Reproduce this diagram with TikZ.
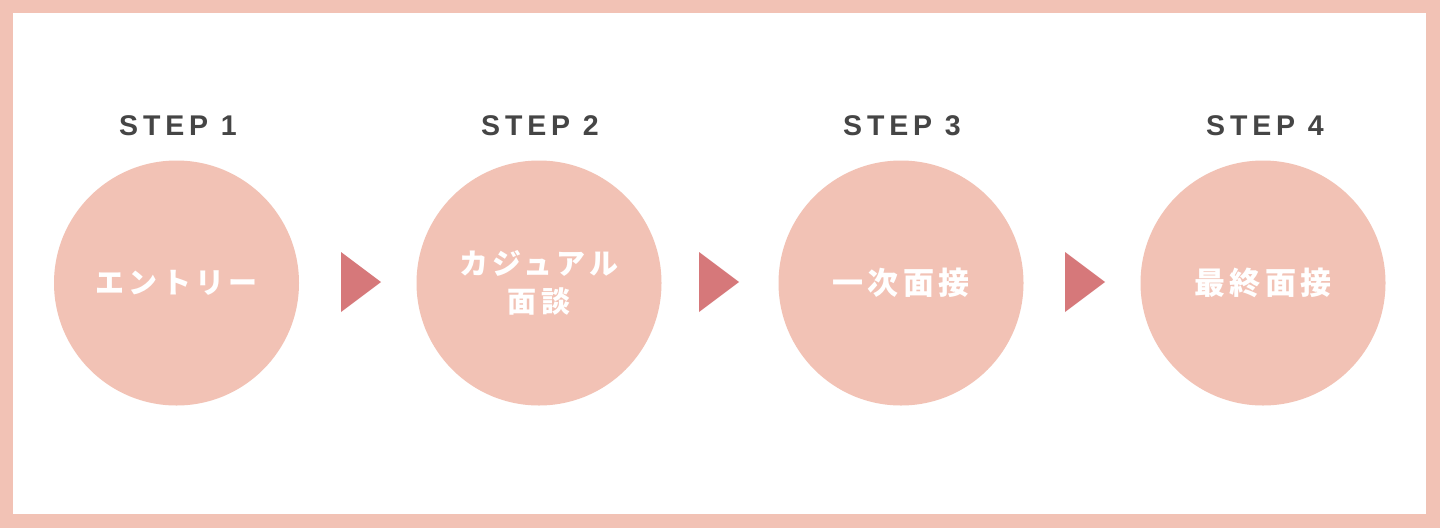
\documentclass[tikz,border=0pt]{standalone}
\usepackage{fontspec}
\newfontfamily\jp{Noto Sans CJK JP}
\newfontfamily\stepfont{Liberation Sans}[LetterSpace=17]
\definecolor{pinkbg}{HTML}{F2C2B5}
\definecolor{arrowc}{HTML}{D6787A}
\definecolor{stepc}{HTML}{454545}
\begin{document}
\begin{tikzpicture}[x=1pt,y=-1pt,
  stepcircle/.style={circle,fill=pinkbg,minimum size=245pt,inner sep=0pt,text=white,align=center},
  kana/.style={font=\jp\bfseries\fontsize{29}{38}\selectfont\addfontfeature{LetterSpace=14}},
  kanji/.style={font=\jp\bfseries\fontsize{31}{38}\selectfont\addfontfeature{LetterSpace=15}},
  steplabel/.style={text=stepc,font=\stepfont\bfseries\fontsize{28.5}{30}\selectfont,inner sep=0pt},
  tri/.style={fill=arrowc}]
\useasboundingbox (0,0) rectangle (1440,528);
\fill[pinkbg] (0,0) rectangle (1440,528);
\fill[white] (13,13) rectangle (1426,514);
\node[stepcircle,kana] (c1) at (176.5,283) {エントリー};
\node[stepcircle,kana] (c2) at (539,283) {カジュアル\\面談};
\node[stepcircle,kanji] (c3) at (901,283) {一次面接};
\node[stepcircle,kanji] (c4) at (1263,283) {最終面接};
\node[steplabel] (s1) at (178,126) {STEP 1};
\node[steplabel] (s2) at (540,126) {STEP 2};
\node[steplabel] (s3) at (902,126) {STEP 3};
\node[steplabel] (s4) at (1265,126) {STEP 4};
\coordinate (a1) at (341,282);
\coordinate (a2) at (699,282);
\coordinate (a3) at (1065,282);
\foreach \a in {a1,a2,a3}
  \fill[tri] ([yshift=-30pt]\a) -- ([xshift=40pt]\a) -- ([yshift=30pt]\a) -- cycle;
\end{tikzpicture}
\end{document}
